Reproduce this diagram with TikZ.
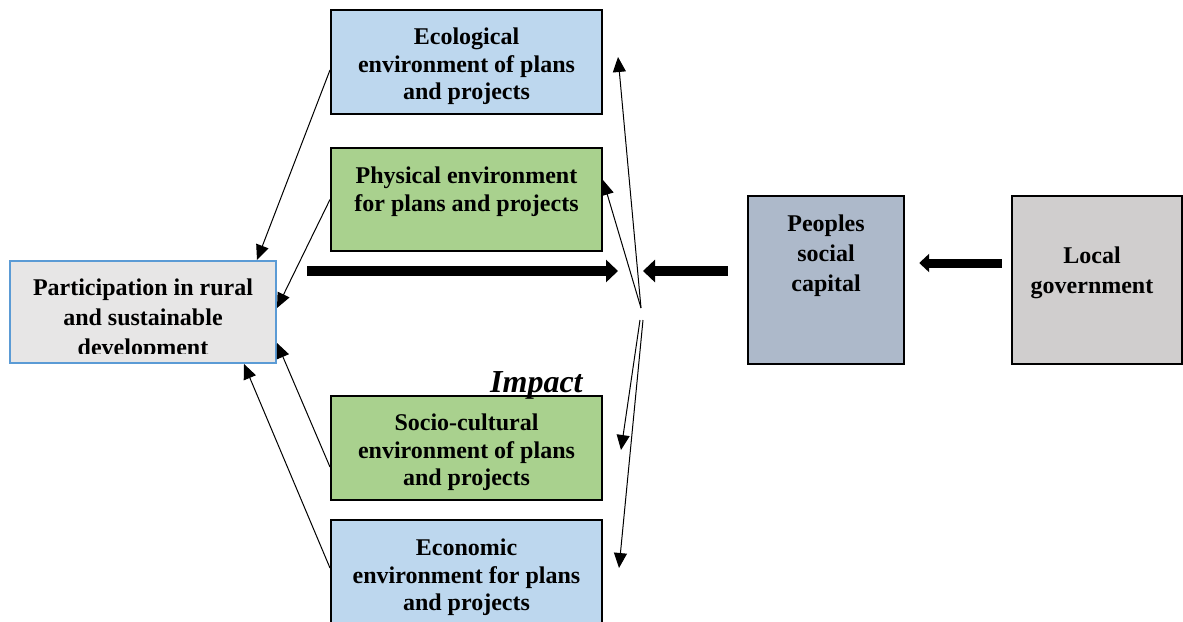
\documentclass[tikz,border=0pt]{standalone}
\usepackage{fontspec}
\setmainfont{Liberation Serif}
\usetikzlibrary{arrows.meta}
\definecolor{envblue}{HTML}{BDD7EE}
\definecolor{envgreen}{HTML}{A9D18E}
\definecolor{partgray}{HTML}{E7E6E6}
\definecolor{partblue}{HTML}{5B9BD5}
\definecolor{capblue}{HTML}{ADB9CA}
\definecolor{govgray}{HTML}{D0CECE}
\begin{document}
\begin{tikzpicture}[x=0.5pt,y=-0.5pt,
  envbox/.style={draw=black,line width=1pt,minimum width=135.5pt,inner sep=0pt},
  capbox/.style={draw=black,line width=1.2pt,inner sep=0pt},
  etext/.style={align=center,inner sep=0pt,font=\fontsize{12}{13.75}\selectfont\bfseries},
  ctext/.style={align=center,inner sep=0pt,font=\fontsize{12}{15}\selectfont\bfseries},
  thin/.style={line width=0.5pt,-{Triangle[length=7.5pt,width=6.5pt]}},
  thickA/.style={line width=5.3pt,-{Triangle[length=6pt,width=11pt]}},
  thickB/.style={line width=4.5pt,-{Triangle[length=5pt,width=9pt]}}]
\useasboundingbox (0,0) rectangle (1183,621);
% boxes
\node[envbox,fill=envblue,minimum height=52pt] (E) at (466.5,62) {};
\node[envbox,fill=envgreen,minimum height=51.5pt] (P) at (466.5,199.5) {};
\node[envbox,fill=envgreen,minimum height=52pt] (S) at (466.5,448) {};
\node[envbox,fill=envblue,minimum height=52pt] (C) at (466.5,572) {};
\node[draw=partblue,line width=1pt,fill=partgray,minimum width=133pt,minimum height=51pt,inner sep=0pt] (L) at (143,312) {};
\node[capbox,fill=capblue,minimum width=78pt,minimum height=84pt] (PS) at (826,280) {};
\node[capbox,fill=govgray,minimum width=85pt,minimum height=84pt] (LG) at (1097,280) {};
% texts
\node[etext] (Et) at (466.5,66.5) {Ecological\\environment of plans\\and projects};
\node[etext] (Pt) at (466.5,191.5) {Physical environment\\for plans and projects};
\node[etext] (St) at (466.5,452.5) {Socio-cultural\\environment of plans\\and projects};
\node[etext] (Ct) at (466.5,577.5) {Economic\\environment for plans\\and projects};
\begin{scope}
  \clip (10,261) rectangle (276,353);
  \node[ctext] (Lt) at (143,320) {Participation in rural\\and sustainable\\development};
\end{scope}
\node[ctext] (PSt) at (826,256) {Peoples\\social\\capital};
\node[ctext] (LGt) at (1092,273) {Local\\government};
\node[anchor=base east,inner sep=0pt,font=\fontsize{16}{18}\selectfont\bfseries\itshape] (imp) at (583,392) {Impact};
% hub coordinates
\coordinate (hubU) at (641,308);
\coordinate (hubD1) at (640,320);
\coordinate (hubD2) at (643,320);
\coordinate (t1s) at (307,271);
\coordinate (t1e) at (618,271);
\coordinate (t2e) at (643,271);
% thin arrows left
\draw[thin] ([yshift=-4pt]E.west) -- ([xshift=-10pt]L.north east);
\draw[thin] (P.west) -- ([yshift=2pt]L.east);
\draw[thin] ([yshift=-9.5pt]S.west) -- ([yshift=-15.5pt]L.east);
\draw[thin] ([yshift=2pt]C.west) -- ([xshift=-16.5pt]L.south east);
% thin arrows from hub
\draw[thin] (hubU) -- ([xshift=7.5pt,yshift=2.5pt]E.east);
\draw[thin] (hubU) -- ([yshift=9.75pt]P.east);
\draw[thin] (hubD1) -- ([xshift=9pt,yshift=-1pt]S.east);
\draw[thin] (hubD2) -- ([xshift=8pt,yshift=2pt]C.east);
% thick arrows
\draw[thickA] (t1s) -- (t1e);
\draw[thickA] ([xshift=-9.5pt,yshift=4.5pt]PS.west) -- (t2e);
\draw[thickB] ([xshift=-4.5pt,yshift=8.5pt]LG.west) -- ([xshift=7pt,yshift=8.5pt]PS.east);
\end{tikzpicture}
\end{document}
